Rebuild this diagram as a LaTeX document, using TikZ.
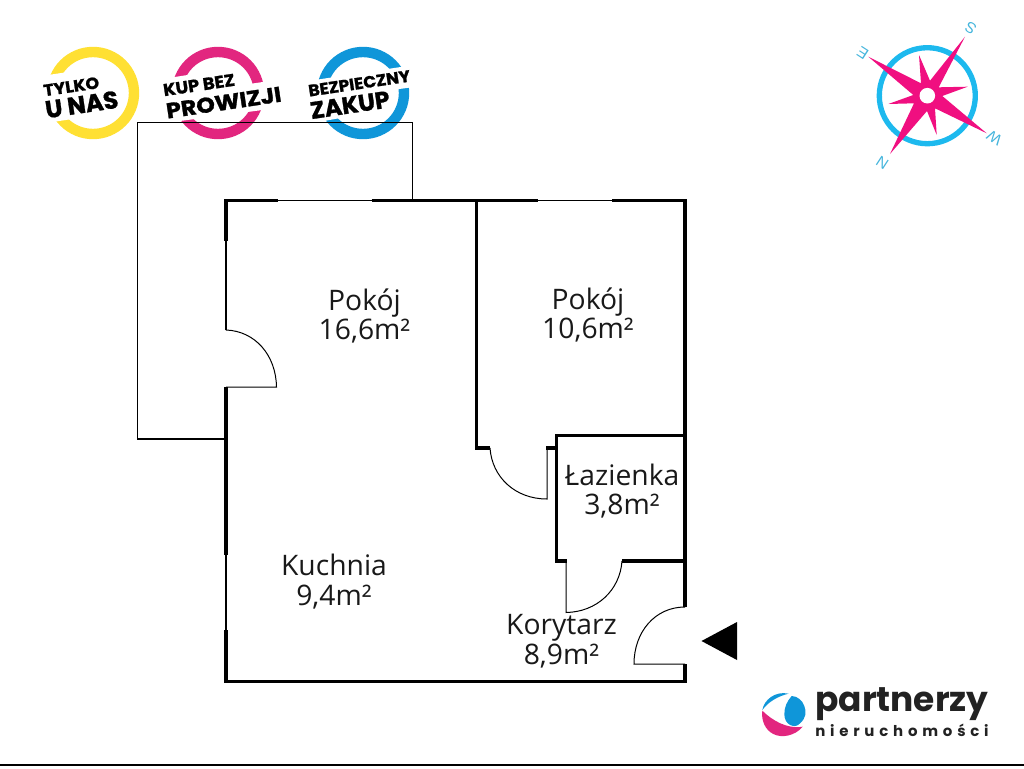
\documentclass[tikz,border=0pt]{standalone}
\usepackage{fontspec}
\usepackage{graphicx}
\setmainfont{Open Sans}
\newfontfamily\badgefont[BoldFeatures={FakeBold=1.2}]{Poppins}
\newfontfamily\logofont{Poppins}
\newfontfamily\compassfont{Liberation Sans}
\definecolor{byellow}{HTML}{FFE033}
\definecolor{bpink}{HTML}{E2267F}
\definecolor{bblue}{HTML}{0F96D9}
\definecolor{cpink}{HTML}{F00F80}
\definecolor{ccyan}{HTML}{1DB9EE}
\definecolor{clet}{HTML}{45B5DC}
\definecolor{logodark}{HTML}{222222}
\newcommand{\badgetext}[3]{\resizebox{#1pt}{#2pt}{\badgefont\bfseries #3}}
\tikzset{
  wall/.style={line width=2.6pt,line cap=butt,line join=miter},
  thin wall/.style={line width=0.95pt},
  door/.style={line width=0.75pt},
  ring/.style={line width=7.8pt},
  room/.style={align=center,inner sep=0pt,font=\fontsize{21.2}{22.2}\selectfont,text=black!90},
  badge/.style={inner sep=0pt,rotate=8.5,text=black},
  cletter/.style={inner sep=0pt,rotate=147,text=clet,font=\compassfont\fontsize{11.5}{11.5}\selectfont}
}
\begin{document}
\begin{tikzpicture}[x=0.75pt,y=-0.75pt]
\useasboundingbox (0,0) rectangle (1024,768);
% badges
\draw[ring,byellow] (93,93) circle[radius=41];
\draw[ring,bpink] (218,93) circle[radius=41];
\draw[ring,bblue] (363,93) circle[radius=41];
\fill[white] (36,76.8) -- (112,65.4) -- (112,113) -- (36,124.5) -- cycle;
\fill[white] (165,78.5) -- (236,67.5) -- (236,86) -- (285,78.7) -- (285,107) -- (165,123) -- cycle;
\fill[white] (305,81.5) -- (414,65) -- (414,87) -- (392,90) -- (392,108.5) -- (305,124.5) -- cycle;
\node[badge] (t1) at (71.3,86.5) {\badgetext{42}{8.7}{TYLKO}};
\node[badge] (t2) at (81.7,104.5) {\badgetext{55}{13}{U NAS}};
\node[badge] (t3) at (199,85) {\badgetext{54}{9}{KUP BEZ}};
\node[badge] (t4) at (223.7,102.5) {\badgetext{87}{11.5}{PROWIZJI}};
\node[badge] (t5) at (359.3,83.3) {\badgetext{77}{8.7}{BEZPIECZNY}};
\node[badge] (t6) at (350,105) {\badgetext{60}{12.5}{ZAKUP}};
% balcony
\draw[thin wall] (226,439) -- (137.5,439) -- (137.5,122.3) -- (412.5,122.3) -- (412.5,200);
% thin walls (windows)
\draw[thin wall] (277,200.5) -- (372,200.5);
\draw[thin wall] (537,200.5) -- (613,200.5);
\draw[thin wall] (226,240) -- (226,330);
\draw[thin wall] (226,554) -- (226,631);
% thick walls
\draw[wall] (278,200.5) -- (226,200.5) -- (226,241);
\draw[wall] (371.5,200.5) -- (537.5,200.5);
\draw[wall] (612,200.5) -- (685,200.5) -- (685,607);
\draw[wall] (226,387) -- (226,555);
\draw[wall] (226,630) -- (226,681.5) -- (685,681.5) -- (685,664);
\draw[wall] (476.5,200.5) -- (476.5,448) -- (490,448);
\draw[wall] (546,448) -- (556.5,448);
\draw[wall] (685,435.7) -- (556.5,435.7) -- (556.5,561) -- (566.5,561);
\draw[wall] (622,561) -- (685,561);
% doors
\draw[door] (226,330) .. controls (255,331) and (276,355) .. (276.5,387) -- (226,387);
\draw[door] (490,448) .. controls (492,477) and (515,499) .. (547,499) -- (547,448);
\draw[door] (566,561) -- (566,612.5) .. controls (597,612) and (620,590) .. (622,561);
\draw[door] (685,607) .. controls (655,607) and (634,632) .. (634,664) -- (685,664);
\fill[black] (701.5,641) -- (737,622) -- (737,660) -- cycle;
% labels
\node[room] (r1) at (364.5,316) {Pokój\\16,6m²};
\node[room] (r2) at (588,315) {Pokój\\10,6m²};
\node[room] (r3) at (622,491) {Łazienka\\3,8m²};
\node[room] (r4) at (334,581.5) {Kuchnia\\9,4m²};
\node[room] (r5) at (561.5,641.5) {Korytarz\\8,9m²};
% compass
\draw[ccyan,line width=4pt] (927.3,95.7) circle[radius=48];
\fill[cpink] (965,36.7) -- (938.7,87.3) -- (967.7,86.7) -- (942.3,96) -- (986.7,133.3) -- (935,108.3) -- (936.7,135) -- (927,111) -- (890,154) -- (914,103.3) -- (888.3,104) -- (913.3,95) -- (868.3,56.7) -- (921,83.3) -- (919,55) -- (930,80.7) -- cycle;
\fill[white] (927.3,95.7) circle[radius=7.8];
\node[cletter] (cs) at (970.7,27.7) {S};
\node[cletter] (ce) at (862.7,53.3) {E};
\node[cletter] (cn) at (882.3,163.3) {N};
\node[cletter] (cw) at (994.3,138.3) {W};
% logo
\begin{scope}[shift={(740,670)},x=0.25pt,y=-0.25pt]
\fill[bblue] (155,78) .. controls (140,95) and (133,112) .. (133,133) .. controls (133,165) and (165,178) .. (180,160) .. controls (198,145) and (200,125) .. (193,108) .. controls (188,92) and (172,78) .. (155,78) -- cycle;
\fill[bblue] (67,120) .. controls (72,90) and (105,62) .. (146,71) .. controls (115,78) and (85,95) .. (67,120) -- cycle;
\fill[bpink] (67,122) .. controls (95,150) and (140,178) .. (188,170) .. controls (165,198) and (125,205) .. (100,192) .. controls (75,180) and (63,150) .. (67,122) -- cycle;
\end{scope}
\node[inner sep=0pt,anchor=base west,text=logodark] (lg1) at (815,711.7) {\resizebox{130pt}{!}{\logofont\bfseries partnerzy}};
\node[inner sep=0pt,anchor=base west,text=logodark] (lg2) at (815,736) {\resizebox{130pt}{!}{\logofont\addfontfeature{LetterSpace=32}\fontsize{10}{10}\selectfont\bfseries nieruchomości}};
% bottom rule
\draw[line width=1.1pt] (0,765) -- (1024,765);
\end{tikzpicture}
\end{document}
